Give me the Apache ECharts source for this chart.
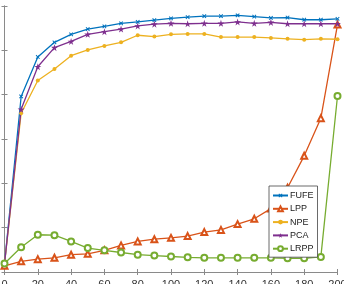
<!DOCTYPE html>
<html><head><meta charset="utf-8">
<script src="https://cdn.jsdelivr.net/npm/echarts@6/dist/echarts.min.js"></script>
<style>html,body{margin:0;padding:0;background:#fff;overflow:hidden}#c{width:344px;height:284px}</style>
</head><body><div id="c"></div>
<script>
const xValues = [0,10,20,30,40,50,60,70,80,90,100,110,120,130,140,150,160,170,180,190,200];
const xTicks = [0,20,40,60,80,100,120,140,160,180,200];
const FUFE = [1.8,39.6,48.5,51.8,53.6,54.8,55.4,56.1,56.4,56.8,57.2,57.5,57.7,57.7,57.9,57.6,57.3,57.4,56.9,56.9,57.1];
const LPP  = [1.4,2.4,2.9,3.2,3.9,4.1,4.9,6.0,6.9,7.4,7.7,8.1,9.0,9.5,10.8,12.0,14.3,19.0,26.2,34.7,55.8];
const NPE  = [1.8,35.8,43.2,45.8,48.8,50.1,51.0,51.8,53.4,53.1,53.6,53.7,53.7,53.0,53.0,53.0,52.8,52.6,52.4,52.6,52.5];
const PCA  = [1.8,36.7,46.3,50.6,52.0,53.6,54.2,54.8,55.5,55.9,56.1,56.0,56.1,56.1,56.4,56.1,56.3,56.0,56.0,56.0,56.0];
const LRPP = [1.9,5.6,8.4,8.3,6.9,5.4,4.9,4.4,3.9,3.7,3.5,3.3,3.2,3.2,3.2,3.2,3.2,3.1,3.1,3.4,39.7];
const names = ['FUFE','LPP','NPE','PCA','LRPP'];
const colors = ['#0072BD','#D95319','#EDB120','#7E2F8E','#77AC30'];

const xSym = 'path://M4,0H6V4H10V6H6V10H4V6H0V4H4Z';
const starSym = 'path://M50,0L61,35L98,35L68,57L79,91L50,70L21,91L32,57L2,35L39,35Z';
const symbols = [xSym,'emptyTriangle','circle',starSym,'emptyCircle'];
const sizes = [5,6,4,7,6];
const rotates = [45,0,0,0,0];
const all = [FUFE,LPP,NPE,PCA,LRPP];

const chart = echarts.init(document.getElementById('c'), null, {renderer:'canvas'});
const axisCol = '#8a8a8a';
const series = names.map((n,i)=>({
  name:n, type:'line', xAxisIndex:0, yAxisIndex:0,
  data: xValues.map((x,j)=>[x, all[i][j]]),
  symbol: symbols[i], symbolSize: sizes[i], symbolRotate: rotates[i],
  showAllSymbol:true, animation:false,
  lineStyle:{color:colors[i], width:1.3},
  itemStyle:{color:colors[i], borderColor:colors[i], borderWidth: i===1||i===4 ? 1.2 : 0}
}));
chart.setOption({
  backgroundColor:'#fff',
  animation:false,
  grid:{left:4.5, right:6.5, top:6, bottom:12, containLabel:false, outerBoundsMode:'none'},
  legend:{
    data:names, orient:'vertical', left:269, top:186,
    backgroundColor:'#fff', borderColor:'#444', borderWidth:0.8,
    padding:[3,4,2,3], itemWidth:15, itemHeight:6, itemGap:0.3,
    textStyle:{fontSize:9, color:'#222', fontFamily:'Liberation Sans, Arial, sans-serif', lineHeight:13, padding:[0,0,0,-3]}
  },
  xAxis:[
    {type:'value', min:0, max:200, interval:20, position:'bottom',
     axisLine:{show:true, lineStyle:{color:axisCol, width:1}},
     axisTick:{show:true, inside:true, length:3, lineStyle:{color:axisCol}},
     axisLabel:{show:true, margin:7, fontSize:11, color:'#333', fontFamily:'Liberation Sans, Arial, sans-serif'},
     splitLine:{show:false}},
    {type:'value', min:0, max:200, interval:20, position:'top',
     axisLine:{show:true, lineStyle:{color:axisCol, width:1}},
     axisTick:{show:true, inside:true, length:3, lineStyle:{color:axisCol}},
     axisLabel:{show:false}, splitLine:{show:false}}
  ],
  yAxis:[
    {type:'value', min:0, max:60, interval:10, position:'left',
     axisLine:{show:true, lineStyle:{color:axisCol, width:1}},
     axisTick:{show:true, inside:true, length:3, lineStyle:{color:axisCol}},
     axisLabel:{show:false}, splitLine:{show:false}},
    {type:'value', min:0, max:60, interval:10, position:'right',
     axisLine:{show:true, lineStyle:{color:axisCol, width:1}},
     axisTick:{show:true, inside:true, length:3, lineStyle:{color:axisCol}},
     axisLabel:{show:false}, splitLine:{show:false}}
  ],
  series: series
});
</script></body></html>
